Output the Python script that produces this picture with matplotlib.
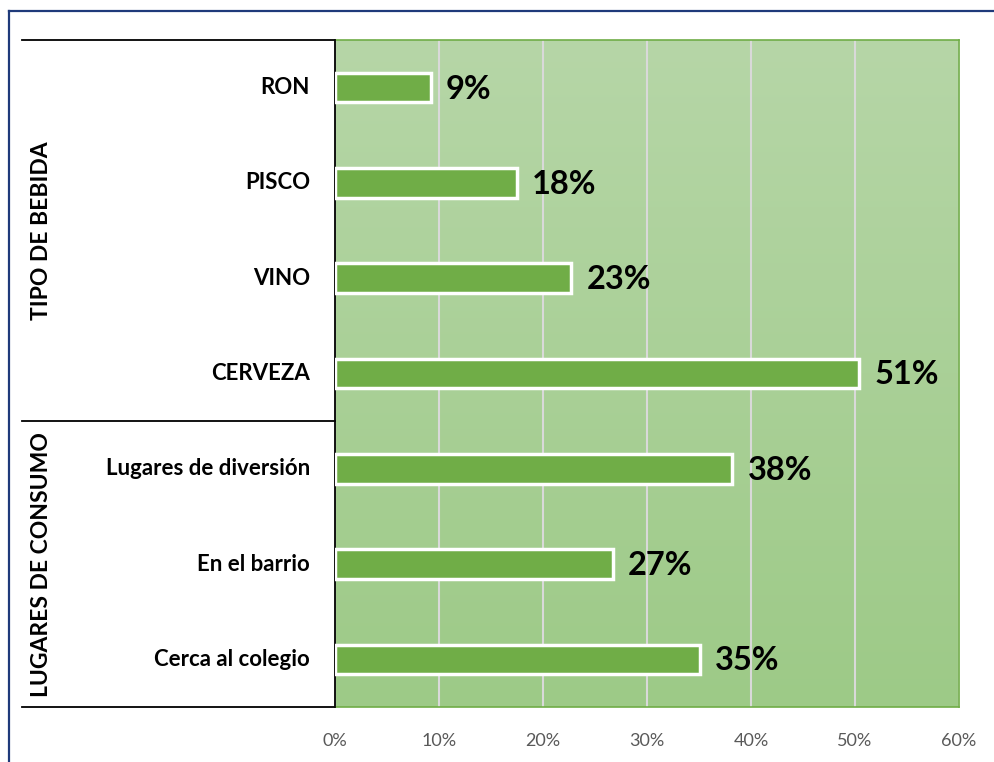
import numpy as np
import matplotlib.pyplot as plt
from matplotlib.colors import LinearSegmentedColormap
from matplotlib.lines import Line2D

## Data ##
categories = ['RON', 'PISCO', 'VINO', 'CERVEZA',
              'Lugares de diversión', 'En el barrio', 'Cerca al colegio']
values = [9.2, 17.5, 22.7, 50.4, 38.2, 26.7, 35.1]
value_labels = ['9%', '18%', '23%', '51%', '38%', '27%', '35%']
groups = ['TIPO DE BEBIDA', 'LUGARES DE CONSUMO']
group_sizes = [4, 3]
xticks = [0, 10, 20, 30, 40, 50, 60]

plt.rcParams['font.family'] = ['Lato', 'DejaVu Sans']

W, H = 995, 762
fig = plt.figure(figsize=(W / 100, H / 100), dpi=100)

# plot area in pixels
left, right, top, bottom = 335, 959, 40, 707
ax = fig.add_axes([left / W, 1 - bottom / H, (right - left) / W, (bottom - top) / H])

# gradient background (lighter at the top)
bg = LinearSegmentedColormap.from_list('bg', ['#b6d6a7', '#9dca87'])
grad = np.linspace(0, 1, 256).reshape(-1, 1)
ax.imshow(grad, aspect='auto', cmap=bg, origin='lower',
          extent=[0, 60, -0.5, len(categories) - 0.5], zorder=0)

y = np.arange(len(categories))
ax.barh(y, values, height=0.31, color='#70ad47', edgecolor='white',
        linewidth=2.5, zorder=3)

for yi, v, lab in zip(y, values, value_labels):
    ax.annotate(lab, xy=(v, yi), xytext=(11, -1), textcoords='offset points',
                va='center', ha='left', fontsize=23.5, fontweight='bold', color='black')

ax.set_xlim(0, 60)
ax.set_ylim(len(categories) - 0.5, -0.5)
ax.set_xticks(xticks)
ax.set_xticklabels([f'{t}%' for t in xticks], color='#595959', fontsize=13)
ax.tick_params(axis='x', length=0, pad=19)
ax.set_yticks([])
ax.grid(axis='x', color='#d9d9d9', linewidth=1.5, zorder=1)
ax.set_axisbelow(True)
for s in ['top', 'right', 'bottom']:
    ax.spines[s].set_color('#70ad47')
    ax.spines[s].set_linewidth(1.2)
ax.spines['left'].set_color('black')
ax.spines['left'].set_linewidth(1.3)

# category labels in the left panel
for yi, cat in zip(y, categories):
    ax.annotate(cat, xy=(0, yi), xytext=(-18, 0), textcoords='offset points',
                ha='right', va='center', fontsize=16, fontweight='bold',
                annotation_clip=False)

# group labels and separators
px = lambda v: v / W
py = lambda v: 1 - v / H
start = 0
seps = [top]
for g, n in zip(groups, group_sizes):
    y0 = ax.transData.transform((0, start - 0.5))[1]
    y1 = ax.transData.transform((0, start + n - 0.5))[1]
    fig.text(px(42), (y0 + y1) / 2 / H, g, rotation=90, ha='center', va='center',
             fontsize=16.5, fontweight='bold')
    start += n
    seps.append(H - y1)

for s in seps:
    fig.add_artist(Line2D([px(22), px(left)], [py(s), py(s)], color='black', linewidth=1.3))

# outer chart border
fig.add_artist(Line2D([px(8.5), px(W)], [py(11), py(11)], color='#1f3a7a', linewidth=1.6))
fig.add_artist(Line2D([px(9), px(9)], [py(11), 0], color='#1f3a7a', linewidth=1.6))

fig.savefig('out.png', dpi=100)
